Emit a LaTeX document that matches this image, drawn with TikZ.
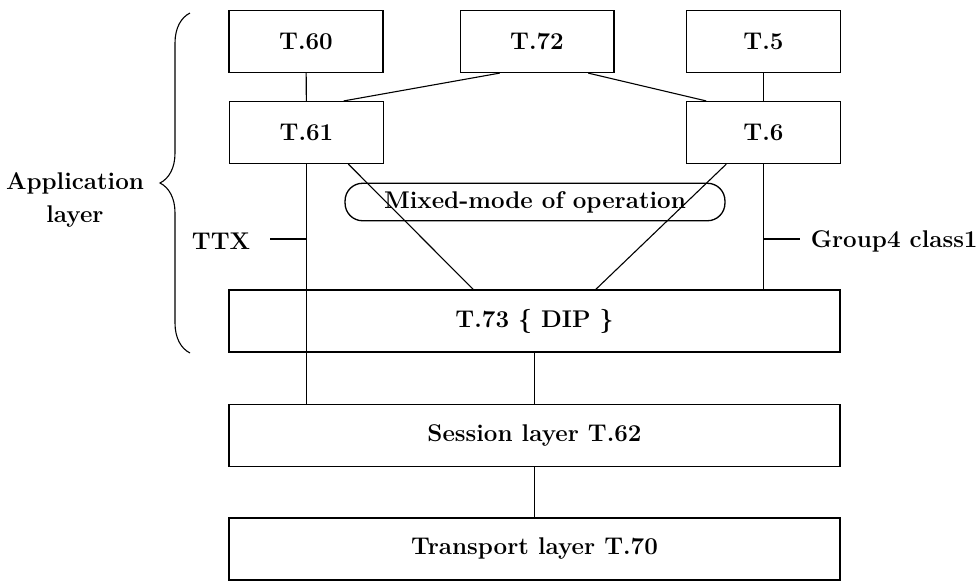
\documentclass[tikz,border=0pt]{standalone}
\usetikzlibrary{calc,decorations.pathreplacing}
\begin{document}
\begin{tikzpicture}[x=0.016cm,y=-0.016cm,
    font=\fontsize{11}{15}\selectfont\bfseries,
    recbox/.style ={rectangle, draw, line width=0.6pt, minimum width=2.46cm, minimum height=0.99cm},
    layerbox/.style ={rectangle, draw, line width=0.6pt, minimum width=9.78cm, minimum height=0.99cm},
    modebox/.style ={rectangle, draw, line width=0.6pt, rounded corners=0.28cm, minimum width=6.08cm, minimum height=0.6cm},
    link/.style ={line width=0.5pt}]
   \useasboundingbox (0,0) rectangle (976,581);
   \node[recbox] (T60) at (306,41.5)  {T.60};
   \node[recbox] (T72) at (537,41.5)  {T.72};
   \node[recbox] (T5)  at (763.5,41.5) {T.5};
   \node[recbox] (T61) at (306.5,132.5) {T.61};
   \node[recbox] (T6)  at (763.5,132.5) {T.6};
   \node[modebox] (mixed) at (535,202) {Mixed-mode of operation};
   \node[layerbox] (T73) at (534.5,321) {T.73 \{ DIP \}};
   \node[layerbox] (session) at (534.5,435.5) {Session layer T.62};
   \node[layerbox] (transport) at (534.5,549) {Transport layer T.70};
   \node[align=center] (app) at (75,200) {Application\\layer};
   \node[anchor=east] (ttx) at (258,241) {TTX};
   \node[anchor=west] (group) at (803,241) {Group4 class1};
   \draw[link] (T60) to (T61);
   \draw[link] (T5) to (T6);
   \draw[link] ($(T72.south west)!0.26!(T72.south east)$) to ($(T61.north west)!0.74!(T61.north east)$);
   \draw[link] ($(T72.south west)!0.83!(T72.south east)$) to ($(T6.north west)!0.13!(T6.north east)$);
   \draw[link] ($(T61.south west)!0.77!(T61.south east)$) to ($(T73.north west)!0.40!(T73.north east)$);
   \draw[link] ($(T6.south west)!0.26!(T6.south east)$) to ($(T73.north west)!0.60!(T73.north east)$);
   \draw[link] (T61.south) to (T61.south |- session.north);
   \draw[link] (T6.south) to (T6.south |- T73.north);
   \draw[link] (T73) to (session);
   \draw[link] (session) to (transport);
   % side labels
   \coordinate (ttxtap) at (T61.south |- 0,239);
   \coordinate (ttxtick) at (270,239);
   \draw[link] (ttxtap) to (ttxtick);
   \coordinate (grouptap) at (T6.south |- 0,239);
   \coordinate (grouptick) at (800,239);
   \draw[link] (grouptap) to (grouptick);
   % brace
   \coordinate (bracebot) at (190,353);
   \coordinate (bracetop) at (190,13);
   \draw[link, decorate, decoration={brace, amplitude=0.48cm}] (bracebot) -- (bracetop);
 \end{tikzpicture}
\end{document}
